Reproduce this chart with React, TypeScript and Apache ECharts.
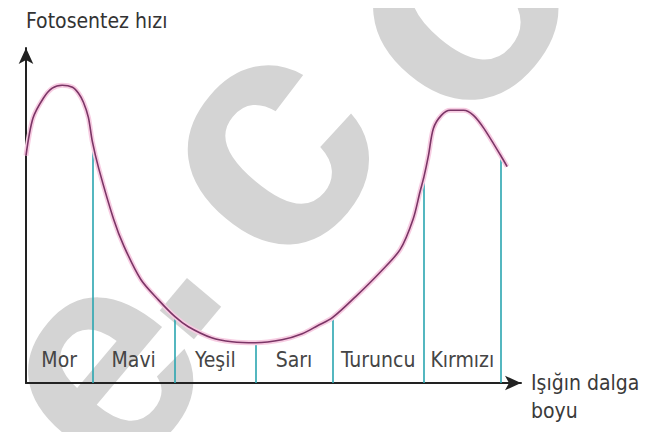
import React, { useEffect, useRef } from "react";
import * as echarts from "echarts";

// Photosynthesis rate curve (relative units)
const curveX = [0, 1.4, 3.5, 5.3, 7.3, 9.4, 10.6, 11.6, 12.6, 13.4, 14.7, 17.7, 19.8, 23.2, 26.7, 30.1, 32.8, 37.5, 41.6, 46.4, 51.7, 55.8, 58.9, 61.9, 66.6, 71.5, 75.6, 78.2, 79.6, 80.4, 81.3, 82.3, 83.9, 85.7, 88.4, 90.4, 92.5, 95.9, 97.2];
const curveY = [67.9, 79.0, 85.0, 88.0, 88.9, 88.3, 86.5, 83.8, 79.3, 72.1, 64.0, 48.9, 40.8, 30.9, 24.9, 19.8, 16.8, 13.5, 12.3, 12.0, 12.9, 14.7, 17.1, 19.5, 25.8, 33.0, 39.9, 48.9, 57.1, 61.6, 67.9, 76.0, 79.9, 81.4, 81.4, 79.9, 76.0, 67.9, 64.6];

// colour bands
const bandNames = ["Mor", "Mavi", "Yeşil", "Sarı", "Turuncu", "Kırmızı"];
const bandStart = [0, 13.4, 30.1, 46.4, 61.9, 80.4];
const bandEnd = [13.4, 30.1, 46.4, 61.9, 80.4, 95.9];

// vertical boundary lines (x position and height where they meet the curve)
const boundaryX = [13.4, 30.1, 46.4, 61.9, 80.4, 95.9];
const boundaryTop = [72.1, 19.8, 12.0, 19.5, 61.0, 67.6];

const yAxisName = "Fotosentez hızı";
const xAxisName = "\nIşığın dalga\nboyu";
// background watermark glyphs
const watermarkGlyphs = ["e", ".", "c", "o"];

const FONT = '"DejaVu Sans Condensed", "Liberation Sans Narrow", "Noto Sans", sans-serif';

export default function App() {
  const ref = useRef<HTMLDivElement>(null);
  useEffect(() => {
    if (!ref.current) return;
    const chart = echarts.init(ref.current, undefined, { renderer: "svg" });
    const curve = curveX.map((x, i) => [x, curveY[i]]);
    const rot = (50 * Math.PI) / 180;
    const glyphPos = [
      [90, 362],
      [128, 256],
      [255, 140],
      [445, -10],
    ];
    const glyphSize = [300, 300, 330, 330];
    const option: any = {
      animation: false,
      backgroundColor: "#ffffff",
      graphic: watermarkGlyphs.map((g, i) => ({
        type: "text",
        x: glyphPos[i][0],
        y: glyphPos[i][1],
        rotation: rot,
        z: -10,
        silent: true,
        style: {
          text: g,
          fontSize: glyphSize[i],
          fontWeight: "bold",
          fontFamily: '"Liberation Sans", Arial, sans-serif',
          fill: "#d4d4d4",
          align: "center",
          verticalAlign: "middle",
        },
      })),
      grid: { left: 26, right: 146, top: 48, bottom: 57 },
      xAxis: {
        type: "value",
        min: 0,
        max: 100,
        axisLine: {
          show: true,
          symbol: ["none", "arrow"],
          symbolSize: [11, 16],
          lineStyle: { color: "#222", width: 2 },
        },
        axisTick: { show: false },
        axisLabel: { show: false },
        splitLine: { show: false },
        name: xAxisName,
        nameLocation: "end",
        nameGap: 10,
        nameTextStyle: {
          fontFamily: FONT,
          fontSize: 21,
          color: "#3a3a3a",
          align: "left",
          verticalAlign: "middle",
          lineHeight: 28,
        },
      },
      yAxis: {
        type: "value",
        min: 0,
        max: 100,
        axisLine: {
          show: true,
          symbol: ["none", "arrow"],
          symbolSize: [11, 16],
          lineStyle: { color: "#222", width: 2 },
        },
        axisTick: { show: false },
        axisLabel: { show: false },
        splitLine: { show: false },
        name: yAxisName,
        nameLocation: "end",
        nameGap: 27,
        nameTextStyle: {
          fontFamily: FONT,
          fontSize: 21,
          color: "#333",
          align: "left",
          verticalAlign: "middle",
        },
      },
      series: [
        {
          type: "lines",
          coordinateSystem: "cartesian2d",
          silent: true,
          z: 1,
          lineStyle: { color: "#2aa5b0", width: 1.6, opacity: 1 },
          data: boundaryX.map((x, i) => ({ coords: [[x, 0], [x, boundaryTop[i]]] })),
        },
        {
          type: "line",
          data: curve,
          smooth: 0.3,
          symbol: "none",
          silent: true,
          z: 2,
          lineStyle: { color: "#f7cce2", width: 5 },
        },
        {
          type: "line",
          data: curve,
          smooth: 0.3,
          symbol: "none",
          silent: true,
          z: 3,
          lineStyle: { color: "#7b3566", width: 1.6 },
          markArea: {
            silent: true,
            itemStyle: { color: "rgba(0,0,0,0)" },
            label: {
              show: true,
              position: "insideBottom",
              distance: 13,
              fontFamily: FONT,
              fontSize: 21,
              color: "#454545",
            },
            data: bandNames.map((n, i) => [
              { name: n, xAxis: bandStart[i], yAxis: 0 },
              { xAxis: bandEnd[i], yAxis: 10 },
            ]),
          },
        },
      ],
    };
    chart.setOption(option);
    return () => chart.dispose();
  }, []);
  return <div ref={ref} style={{ width: 667, height: 440, margin: -8 }} />;
}
